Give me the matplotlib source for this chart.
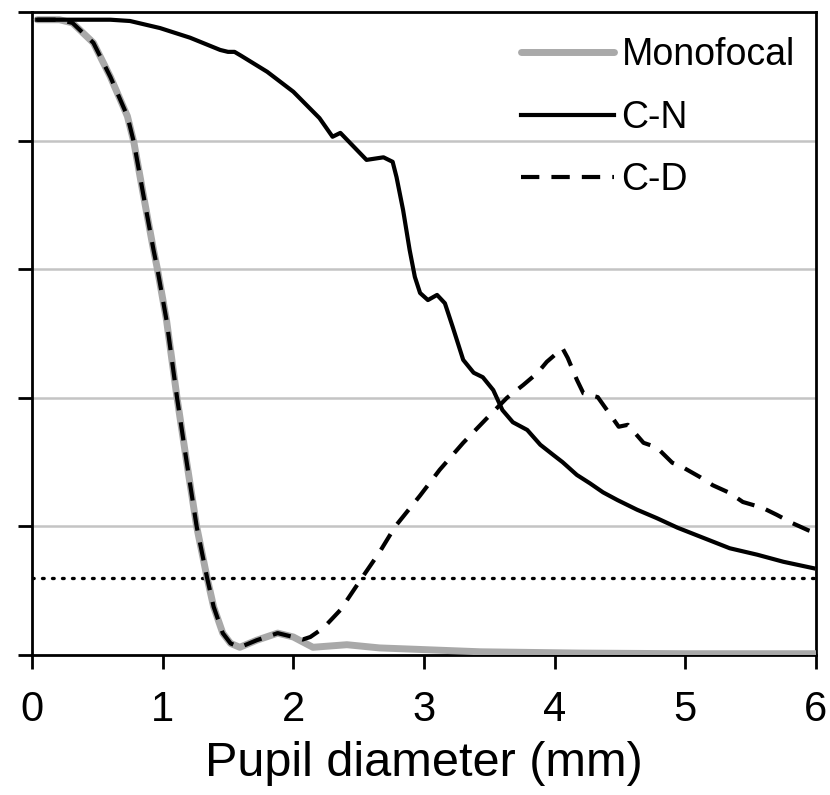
import matplotlib
matplotlib.use("Agg")
import matplotlib.pyplot as plt

plt.rcParams['font.family'] = ['Liberation Sans', 'DejaVu Sans']

# pupil diameter (mm) and relative values
mono_x = [0.04, 0.21, 0.31, 0.47, 0.60, 0.73, 0.78, 0.85, 0.93, 0.96, 1.03, 1.11, 1.18, 1.26,
          1.34, 1.39, 1.46, 1.52, 1.59, 1.72, 1.88, 2.00, 2.15, 2.41, 2.66, 2.92, 3.43, 4.19, 5.0, 6.0]
mono_y = [0.988, 0.988, 0.983, 0.952, 0.899, 0.838, 0.797, 0.718, 0.630, 0.600, 0.520, 0.400, 0.305, 0.200,
          0.120, 0.075, 0.034, 0.018, 0.012, 0.023, 0.034, 0.028, 0.012, 0.016, 0.011, 0.009, 0.005, 0.003, 0.002, 0.002]

cd_x = [0.04, 0.21, 0.31, 0.47, 0.60, 0.73, 0.78, 0.85, 0.93, 0.96, 1.03, 1.11, 1.18, 1.26,
        1.34, 1.39, 1.46, 1.52, 1.59, 1.72, 1.88, 2.00, 2.07, 2.13, 2.23, 2.36, 2.525, 2.66, 2.78, 2.97,
        3.12, 3.30, 3.48, 3.635, 3.76, 3.87, 3.94, 4.06, 4.10, 4.17, 4.22, 4.33, 4.40, 4.49, 4.56,
        4.68, 4.78, 4.90, 4.98, 5.11, 5.21, 5.34, 5.44, 5.59, 5.70, 5.82, 5.94, 6.0]
cd_y = [0.988, 0.988, 0.983, 0.952, 0.899, 0.838, 0.797, 0.718, 0.630, 0.600, 0.520, 0.400, 0.305, 0.200,
        0.120, 0.075, 0.034, 0.018, 0.012, 0.023, 0.034, 0.028, 0.024, 0.028, 0.042, 0.070, 0.120, 0.160, 0.200, 0.248,
        0.288, 0.330, 0.368, 0.400, 0.420, 0.439, 0.456, 0.477, 0.462, 0.428, 0.407, 0.401, 0.381, 0.355, 0.358,
        0.330, 0.323, 0.299, 0.292, 0.277, 0.264, 0.252, 0.238, 0.229, 0.218, 0.205, 0.194, 0.190]

cn_x = [0.04, 0.60, 0.75, 0.98, 1.21, 1.44, 1.50, 1.55, 1.60, 1.80, 2.00, 2.20, 2.30, 2.36, 2.56, 2.69,
        2.76, 2.79, 2.84, 2.89, 2.93, 2.97, 3.03, 3.10, 3.16, 3.22, 3.30, 3.38, 3.45, 3.53, 3.60, 3.68,
        3.79, 3.89, 3.99, 4.06, 4.17, 4.27, 4.37, 4.48, 4.63, 4.78, 4.94, 5.14, 5.34, 5.55, 5.75, 5.98]
cn_y = [0.988, 0.988, 0.986, 0.975, 0.960, 0.941, 0.938, 0.938, 0.932, 0.907, 0.876, 0.835, 0.806, 0.812, 0.770, 0.774,
        0.767, 0.743, 0.692, 0.630, 0.588, 0.563, 0.552, 0.560, 0.547, 0.510, 0.459, 0.439, 0.432, 0.412, 0.381, 0.362,
        0.350, 0.327, 0.311, 0.300, 0.280, 0.267, 0.253, 0.241, 0.226, 0.213, 0.198, 0.182, 0.166, 0.156, 0.145, 0.135]

threshold = 0.12
grid_levels = [0.2, 0.4, 0.6, 0.8]

fig = plt.figure(figsize=(8.3, 7.95), dpi=100)
ax = fig.add_axes([32 / 830, 1 - 655 / 795, 784 / 830, 643 / 795])

for g in grid_levels:
    ax.axhline(g, color='#c4c4c4', lw=1.8, zorder=1)
ax.axhline(threshold, color='black', lw=2.4, dashes=(0.5, 2.5), dash_capstyle='round', zorder=2)

ax.plot(mono_x, mono_y, color='#a9a9a9', lw=5.0, label='Monofocal', zorder=3,
        solid_capstyle='round', solid_joinstyle='round')
ax.plot(cn_x, cn_y, color='black', lw=3.0, label='C-N', zorder=4, solid_joinstyle='round')
ax.plot(cd_x, cd_y, color='black', lw=3.0, dashes=(4.4, 2.9), label='C-D', zorder=5)

ax.set_xlim(0, 6)
ax.set_ylim(0, 1)
ax.set_xticks(range(7))
ax.set_yticks([0, 0.2, 0.4, 0.6, 0.8, 1.0])
ax.set_yticklabels([])
ax.tick_params(axis='both', direction='out', length=10, width=2, labelsize=30, pad=15)
for sp in ax.spines.values():
    sp.set_linewidth(2)
ax.set_xlabel('Pupil diameter (mm)', fontsize=35, labelpad=8)

ax.legend(loc='upper right', bbox_to_anchor=(0.973, 0.961), frameon=False, fontsize=27,
          handlelength=2.48, handletextpad=0.21, labelspacing=0.71, borderpad=0, borderaxespad=0)

fig.savefig('out.png', dpi=100)
